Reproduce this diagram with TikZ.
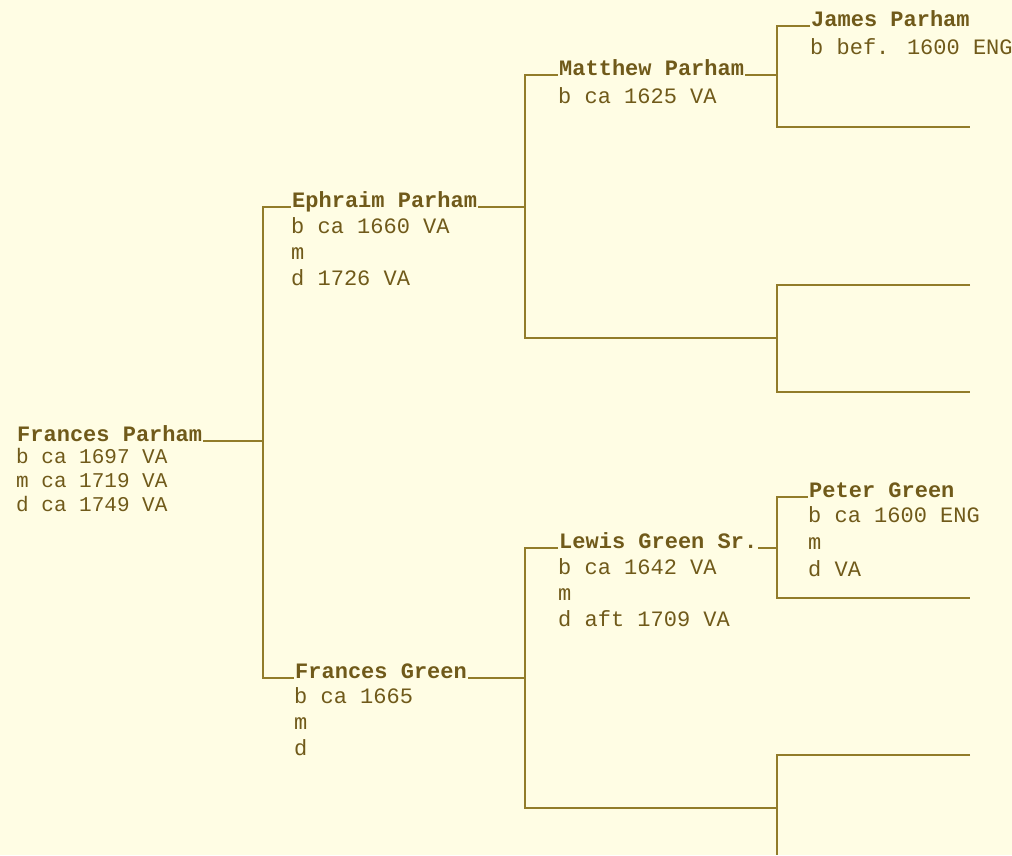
\documentclass[tikz,border=0pt]{standalone}
\usepackage{fontspec}
\newfontfamily\famono{Liberation Mono}
\usetikzlibrary{positioning}

\begin{document}
\begin{tikzpicture}[x=1pt, y=-1pt]

\definecolor{paper_color}{RGB}{255,253,228}
\definecolor{ink_color}{RGB}{112,90,26}
\definecolor{wire_color}{RGB}{146,124,42}

\tikzset{
  wire/.style={line width=2pt, draw=wire_color},
  who/.style={font={\famono\bfseries\fontsize{22}{26}\selectfont}, text=ink_color,
    anchor=base west, inner xsep=1pt, inner ysep=0pt},
  dates/.style={font={\famono\fontsize{22}{#1}\selectfont\lineskiplimit=-100pt},
    text=ink_color, align=left, inner sep=0pt,
    execute at begin node={\rule{0pt}{18pt}}},
  dates/.default=26,
  smalldates/.style={dates=24, font={\famono\fontsize{21}{24}\selectfont\lineskiplimit=-100pt}},
}

\fill[paper_color] (0,0) rectangle (1012,855);
\useasboundingbox (0,0) rectangle (1012,855);

\node[who] (fpar) at (16,441) {Frances Parham};
\node[who] (ephr) at (291,207) {Ephraim Parham};
\node[who] (fgre) at (294,678) {Frances Green};
\node[who] (matt) at (558,75) {Matthew Parham};
\node[who] (lewi) at (558,548) {Lewis Green Sr.};
\node[who] (jame) at (810,26) {James Parham};
\node[who] (pete) at (808,497) {Peter Green};

\node[smalldates, below right=7pt and 0pt of fpar.base west] (fparI) {b ca 1697 VA\\m ca 1719 VA\\d ca 1749 VA};
\node[dates, below right=10pt and 0pt of ephr.base west] (ephrI) {b ca 1660 VA\\m\\d 1726 VA};
\node[dates, below right=9pt and 0pt of fgre.base west] (fgreI) {b ca 1665\\m\\d};
\node[dates, below right=10pt and 0pt of matt.base west] (mattI) {b ca 1625 VA};
\node[dates, below right=10pt and 0pt of lewi.base west] (lewiI) {b ca 1642 VA\\m\\d aft 1709 VA};
\node[dates, below right=10pt and 0pt of jame.base west] (jameI) {b bef. 1600 ENG};
\node[dates=27, below right=9pt and 0pt of pete.base west] (peteI) {b ca 1600 ENG\\m\\d VA};

\coordinate (b1) at (263,441);
\coordinate (b2) at (525,207);
\coordinate (b3) at (525,678);
\coordinate (b4a) at (777,75);
\coordinate (b4b) at (777,338);
\coordinate (b4c) at (777,548);
\coordinate (b4d) at (777,808);
\coordinate (e1) at (970,127);
\coordinate (e2) at (970,285);
\coordinate (e3) at (970,392);
\coordinate (e4) at (970,598);
\coordinate (e5) at (970,755);
\coordinate (e6) at (777,855);

\draw[wire] (fpar.base east) -- (b1);
\draw[wire] (ephr.base west) -| (b1) |- (fgre.base west);

\draw[wire] (ephr.base east) -- (b2);
\draw[wire] (matt.base west) -| (b2) |- (b4b);
\draw[wire] (fgre.base east) -- (b3);
\draw[wire] (lewi.base west) -| (b3) |- (b4d);

\draw[wire] (matt.base east) -- (b4a);
\draw[wire] (lewi.base east) -- (b4c);

\draw[wire] (jame.base west) -| (b4a) |- (e1);
\draw[wire] (e2) -| (b4b) |- (e3);
\draw[wire] (pete.base west) -| (b4c) |- (e4);
\draw[wire] (e5) -| (b4d) -- (e6);

\end{tikzpicture}
\end{document}
